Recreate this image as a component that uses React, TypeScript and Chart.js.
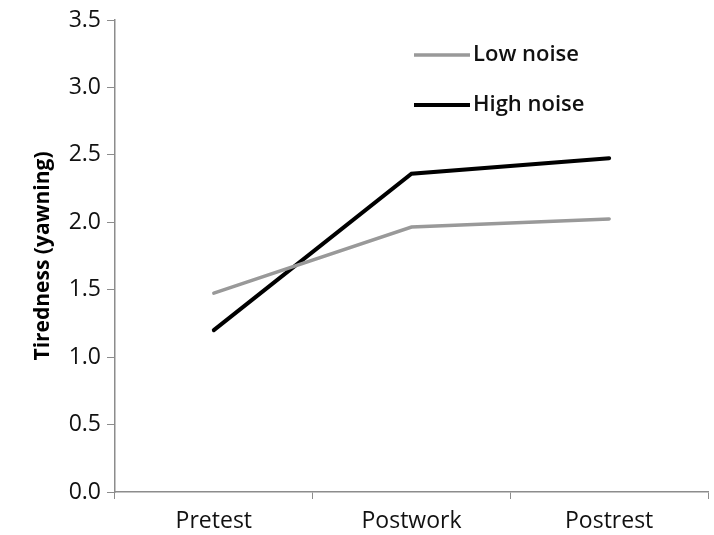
import React, { useEffect, useRef } from "react";
import { Chart, registerables } from "chart.js";

Chart.register(...registerables);

const categories = ["Pretest", "Postwork", "Postrest"];
const lowNoise = [1.475, 1.965, 2.025];
const highNoise = [1.2, 2.36, 2.475];
const yTicks = [0, 0.5, 1, 1.5, 2, 2.5, 3, 3.5];
const seriesLabels = ["Low noise", "High noise"];

const FONT = "'Open Sans', Lato, sans-serif";

const legendPlugin = {
  id: "insideLegend",
  afterDatasetsDraw(chart: any) {
    const ctx = chart.ctx;
    const x0 = 414;
    const rows = [55, 105];
    ctx.save();
    chart.data.datasets.forEach((ds: any, i: number) => {
      const y = rows[i];
      ctx.strokeStyle = ds.borderColor;
      ctx.lineWidth = ds.borderWidth;
      ctx.beginPath();
      ctx.moveTo(x0, y);
      ctx.lineTo(x0 + 56, y);
      ctx.stroke();
      ctx.fillStyle = "#111";
      ctx.font = `600 22px ${FONT}`;
      ctx.textBaseline = "middle";
      ctx.fillText(ds.label, x0 + 59, y);
    });
    ctx.restore();
  },
};

export default function App() {
  const ref = useRef<HTMLCanvasElement>(null);
  useEffect(() => {
    document.body.style.margin = "0";
    const chart = new Chart(ref.current!, {
      type: "line",
      data: {
        labels: categories,
        datasets: [
          {
            label: seriesLabels[0],
            data: lowNoise,
            borderColor: "#999999",
            borderWidth: 3.5,
            pointRadius: 0,
            tension: 0,
            borderCapStyle: "round",
          },
          {
            label: seriesLabels[1],
            data: highNoise,
            borderColor: "#000000",
            borderWidth: 4,
            pointRadius: 0,
            tension: 0,
            borderCapStyle: "round",
          },
        ],
      },
      options: {
        animation: false,
        responsive: false,
        layout: { padding: { top: 20, right: 6, left: 0, bottom: 0 } },
        plugins: { legend: { display: false }, tooltip: { enabled: false } },
        scales: {
          x: {
            offset: true,
            grid: {
              offset: true,
              drawOnChartArea: false,
              drawTicks: true,
              tickLength: 7,
              color: "#8c8c8c",
            },
            border: { color: "#8c8c8c", width: 1.5 },
            ticks: { color: "#111", font: { family: FONT, size: 23 }, padding: 9 },
            afterFit(scale: any) {
              scale.height = 43;
            },
          },
          y: {
            min: 0,
            max: 3.5,
            afterBuildTicks(scale: any) {
              scale.ticks = yTicks.map((v) => ({ value: v }));
            },
            grid: {
              drawOnChartArea: false,
              drawTicks: true,
              tickLength: 8,
              color: "#8c8c8c",
            },
            border: { color: "#8c8c8c", width: 1.5 },
            ticks: {
              color: "#111",
              font: { family: FONT, size: 23 },
              padding: 6,
              callback: (v: any) => Number(v).toFixed(1),
            },
            title: {
              display: true,
              text: "Tiredness (yawning)",
              color: "#000",
              font: { family: FONT, size: 21, weight: "bold" },
              padding: { top: 30, bottom: 0 },
            },
            afterFit(scale: any) {
              scale.width = 115;
            },
          },
        },
      },
      plugins: [legendPlugin],
    });
    return () => chart.destroy();
  }, []);
  return (
    <div style={{ width: 714, height: 535, background: "#fff" }}>
      <canvas ref={ref} width={714} height={535} />
    </div>
  );
}
